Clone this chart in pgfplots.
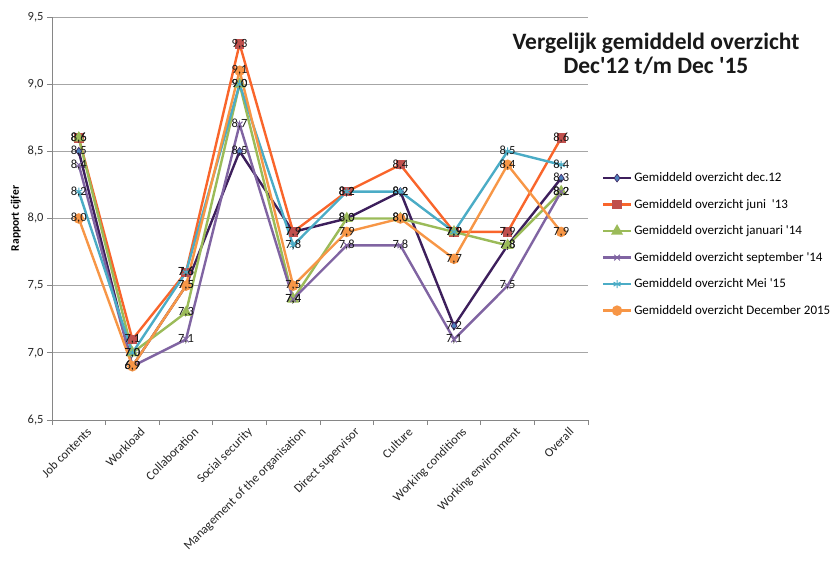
\documentclass[border=0pt]{standalone}
\usepackage{pgfplots}
\pgfplotsset{compat=1.18}
\usepackage{pgfplotstable}
\usepackage{fontspec}
\setmainfont{Carlito}[Ligatures=TeXOff]
\definecolor{cDec}{HTML}{3D1F5C}
\definecolor{cDecM}{HTML}{4F81BD}
\definecolor{cJun}{HTML}{F9652B}
\definecolor{cJunM}{HTML}{C0504D}
\definecolor{cJan}{HTML}{9BBB59}
\definecolor{cSep}{HTML}{8064A2}
\definecolor{cMei}{HTML}{4BACC6}
\definecolor{cD15}{HTML}{F79646}
\definecolor{gridc}{HTML}{A6A6A6}
\definecolor{axc}{HTML}{868686}
\pgfplotstableread{
cat Dec12 Jun13 Jan14 Sep14 Mei15 Dec15
0 8.5 8.6 8.6 8.4 8.2 8.0
1 6.9 7.1 7.0 6.9 7.0 6.9
2 7.5 7.6 7.3 7.1 7.6 7.5
3 8.5 9.3 9.0 8.7 9.0 9.1
4 7.9 7.9 7.4 7.4 7.8 7.5
5 8.0 8.2 8.0 7.8 8.2 7.9
6 8.2 8.4 8.0 7.8 8.2 8.0
7 7.2 7.9 7.9 7.1 7.9 7.7
8 7.8 7.9 7.8 7.5 8.5 8.4
9 8.3 8.6 8.2 8.2 8.4 7.9
}\datatable
\begin{document}
\begin{tikzpicture}
\useasboundingbox (0,0) rectangle (833pt,-563pt);
\begin{axis}[
  at={(52pt,-420pt)}, anchor=south west,
  scale only axis, width=536pt, height=403pt,
  xmin=-0.5, xmax=9.5, ymin=6.5, ymax=9.5,
  axis x line*=bottom, axis y line*=left,
  axis line style={axc, line width=0.8pt, -},
  xtick={0,...,9},
  xticklabels={Job contents, Workload, Collaboration, Social security, Management of the organisation, Direct supervisor, Culture, Working conditions, Working environment, Overall},
  minor xtick={-0.5,0.5,...,9.5},
  major x tick style={draw=none},
  minor x tick style={axc, line width=0.8pt},
  minor tick length=5pt,
  tick align=outside,
  ytick={6.5,7,...,9.5},
  major y tick style={axc, line width=0.8pt},
  major tick length=5pt,
  ymajorgrids, grid style={gridc, line width=0.9pt},
  /pgf/number format/assume math mode=true,
  yticklabel style={/pgf/number format/.cd, use comma, fixed, fixed zerofill, precision=1},
  tick label style={font=\fontsize{12.5}{14}\selectfont, text=black!85},
  xticklabel style={rotate=45, anchor=north east, inner sep=1pt, xshift=5pt, yshift=-5pt},
  ylabel={\textbf{Rapport cijfer}},
  ylabel style={font=\fontsize{11.5}{13}\selectfont},
  nodes near coords={\pgfmathprintnumber[use comma,fixed,fixed zerofill,precision=1]{\pgfplotspointmeta}},
  point meta=y,
  every node near coord/.style={anchor=center, font=\fontsize{12.5}{14}\selectfont, text=black!90, inner sep=0pt},
  legend image code/.code={\draw[mark repeat=2,mark phase=2,#1] plot coordinates {(0pt,0pt) (14pt,0pt) (28pt,0pt)};},
  legend style={at={(1.0255,0.619)}, anchor=north west, draw=none, fill=none,
    font=\fontsize{13}{15}\selectfont, row sep=12pt, inner sep=0pt,
    /tikz/every even column/.append style={column sep=0pt}},
  legend cell align=left,
  clip=false,
]
\addplot[cDec, line width=2.4pt, mark=diamond*, mark size=4pt, mark options={fill=cDecM, draw=cDec, line width=0.6pt}] table[x=cat, y=Dec12]{\datatable};
\addlegendentry{Gemiddeld overzicht dec.12}
\addplot[cJun, line width=2.4pt, mark=square*, mark size=3.5pt, mark options={fill=cJunM, draw=cJunM}] table[x=cat, y=Jun13]{\datatable};
\addlegendentry{Gemiddeld overzicht juni \ '13}
\addplot[cJan, line width=2.4pt, mark=triangle*, mark size=4.5pt, mark options={fill=cJan, draw=cJan}] table[x=cat, y=Jan14]{\datatable};
\addlegendentry{Gemiddeld overzicht januari '14}
\addplot[cSep, line width=2.4pt, mark=x, mark size=4pt, mark options={draw=cSep, line width=1pt}] table[x=cat, y=Sep14]{\datatable};
\addlegendentry{Gemiddeld overzicht september '14}
\addplot[cMei, line width=2.4pt, mark=asterisk, mark size=4pt, mark options={draw=cMei, line width=1pt}] table[x=cat, y=Mei15]{\datatable};
\addlegendentry{Gemiddeld overzicht Mei '15}
\addplot[cD15, line width=2.4pt, mark=*, mark size=4pt, mark options={fill=cD15, draw=cD15}] table[x=cat, y=Dec15]{\datatable};
\addlegendentry{Gemiddeld overzicht December 2015}
\end{axis}
\node[align=center, font=\fontsize{23.5}{24}\selectfont\bfseries, text=black!90] at (656pt,-54pt) {Vergelijk gemiddeld overzicht\\Dec'12 t/m Dec '15};
\end{tikzpicture}
\end{document}
